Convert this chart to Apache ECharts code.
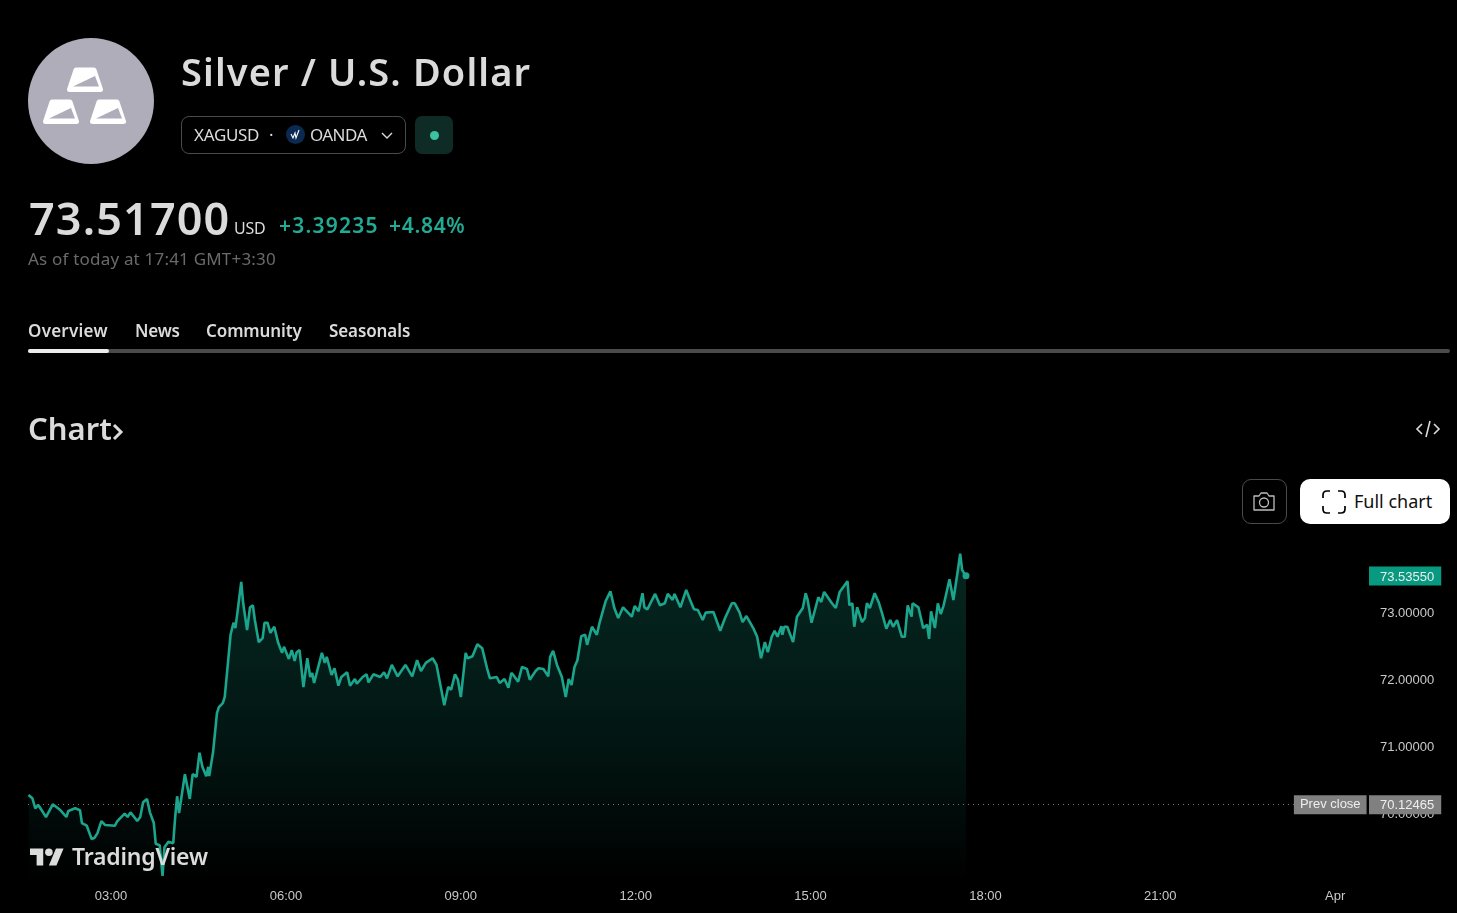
<!DOCTYPE html>
<html>
<head>
<meta charset="utf-8">
<title>Silver / U.S. Dollar</title>
<script src="https://cdn.jsdelivr.net/npm/echarts@6/dist/echarts.min.js"></script>
<style>
  html, body { margin: 0; padding: 0; background: #000; width: 1457px; height: 913px; overflow: hidden; }
  body { position: relative; font-family: "Noto Sans", sans-serif; color: #dbdbdb; }
  #main { position: absolute; left: 0; top: 0; width: 1457px; height: 913px; }
  .t { position: absolute; white-space: nowrap; line-height: 1; }
  .box { position: absolute; box-sizing: border-box; }
  svg { position: absolute; overflow: visible; }
</style>
</head>
<body>
<div id="main"></div>

<!-- page header -->
<div class="box" style="left:28px;top:38px;width:126px;height:126px;border-radius:50%;background:#aeadb9"></div>
<svg style="left:0;top:0" width="160" height="170">
  <defs>
    <g id="bar">
      <path d="M76 70H94L100.500 89.500H69.500Z" fill="#fff" stroke="#fff" stroke-width="5" stroke-linejoin="round"/>
      <path d="M73 86.500L95 76L99 86.500Z" fill="#aeadb9"/>
    </g>
  </defs>
  <use href="#bar"/>
  <use href="#bar" x="-24" y="32"/>
  <use href="#bar" x="23" y="32"/>
</svg>
<div class="t" style="left:181px;top:52px;font-size:38px;font-weight:600;letter-spacing:1.12px">Silver / U.S. Dollar</div>

<div class="box" style="left:181px;top:116px;width:225px;height:38px;border:1px solid #4a4a4a;border-radius:8px"></div>
<div class="t" style="left:194px;top:126px;font-size:17px;letter-spacing:-.3px">XAGUSD</div>
<div class="t" style="left:269px;top:126px;font-size:17px">·</div>
<div class="box" style="left:286px;top:125px;width:19px;height:19px;border-radius:50%;background:#0b2a52"></div>
<svg style="left:286px;top:125px" width="19" height="19"><path d="M5 9L7 13L9 8L10 13L13 5" fill="none" stroke="#fff" stroke-width="1.1"/></svg>
<div class="t" style="left:310px;top:126px;font-size:17px;letter-spacing:-.6px">OANDA</div>
<svg style="left:381px;top:132px" width="12" height="8"><path d="M1 1L6 6L11 1" fill="none" stroke="#dbdbdb" stroke-width="1.4"/></svg>
<div class="box" style="left:415px;top:116px;width:38px;height:38px;border-radius:7px;background:#0e2b26"></div>
<div class="box" style="left:430px;top:131px;width:9px;height:9px;border-radius:50%;background:#3cc2a0"></div>

<div class="t" style="left:29px;top:195px;font-size:45px;font-weight:600;letter-spacing:1.1px">73.51700</div>
<div class="t" style="left:234px;top:220px;font-size:16px;letter-spacing:-.2px">USD</div>
<div class="t" style="left:279px;top:215px;font-size:21px;font-weight:600;letter-spacing:1.25px;color:#22ab94">+3.39235</div>
<div class="t" style="left:389px;top:215px;font-size:21px;font-weight:600;letter-spacing:.7px;color:#22ab94">+4.84%</div>
<div class="t" style="left:28px;top:250px;font-size:17px;letter-spacing:.2px;color:#6a6a6a">As of today at 17:41 GMT+3:30</div>

<div class="t" style="left:28px;top:322px;font-size:17px;font-weight:600;letter-spacing:.25px">Overview</div>
<div class="t" style="left:135px;top:322px;font-size:17px;font-weight:600;letter-spacing:-.2px">News</div>
<div class="t" style="left:206px;top:322px;font-size:17px;font-weight:600;letter-spacing:-.1px">Community</div>
<div class="t" style="left:329px;top:322px;font-size:17px;font-weight:600;letter-spacing:-.1px">Seasonals</div>
<div class="box" style="left:28px;top:349px;width:1422px;height:4px;border-radius:2px;background:#4a4a4a"></div>
<div class="box" style="left:28px;top:349px;width:81px;height:4px;border-radius:2px;background:#ececec"></div>

<div class="t" style="left:28px;top:413px;font-size:31px;font-weight:600">Chart</div>
<svg style="left:112px;top:423px" width="12" height="18"><path d="M2 2L9 9L2 16" fill="none" stroke="#dbdbdb" stroke-width="3"/></svg>
<svg style="left:1416px;top:420px" width="24" height="18"><path d="M6 4L1 9L6 14M18 4L23 9L18 14M14 1L10 17" fill="none" stroke="#dbdbdb" stroke-width="1.6"/></svg>

<div class="box" style="left:1242px;top:479px;width:45px;height:45px;border:1px solid #4a4a4a;border-radius:9px"></div>
<svg style="left:1252px;top:491px" width="24" height="21">
  <path d="M2 5H7L9 2H15L17 5H22V19H2Z" fill="none" stroke="#bdbdbd" stroke-width="1.3" stroke-linejoin="round"/>
  <circle cx="12" cy="11.5" r="4.5" fill="none" stroke="#bdbdbd" stroke-width="1.3"/>
</svg>
<div class="box" style="left:1300px;top:479px;width:150px;height:45px;border-radius:10px;background:#fff"></div>
<svg style="left:1322px;top:490px" width="24" height="24">
  <path d="M1 8V5Q1 1 5 1H8M16 1H19Q23 1 23 5V8M23 16V19Q23 23 19 23H16M8 23H5Q1 23 1 19V16" fill="none" stroke="#000" stroke-width="1.7"/>
</svg>
<div class="t" style="left:1354px;top:492px;font-size:18px;color:#0f0f0f">Full chart</div>

<!-- TradingView mark over the chart -->
<svg style="left:30px;top:848px" width="34" height="18" viewBox="0 4 36 18">
  <path d="M14 22H7V11H0V4h14v18zM28 22h-8l7.500-18h8L28 22z" fill="#dcdcdc"/><circle cx="20" cy="8" r="4" fill="#dcdcdc"/>
</svg>
<div class="t" style="left:72px;top:845px;font-size:23px;font-weight:600;letter-spacing:-.2px;color:#dcdcdc">TradingView</div>

<script>
// minutes after midnight
const minutes = [
  95, 99, 102, 105, 107, 110, 113, 120, 128, 134, 136, 143, 148, 150, 155, 160, 163, 166, 170, 174,
  184, 186, 194, 197, 200, 207, 210, 213, 217, 220, 224, 226, 230, 233, 235, 239, 244, 246, 248, 250,
  256, 261, 264, 268, 271, 274, 278, 280, 281, 285, 286, 289, 291, 295, 297, 303, 306, 308, 311, 314,
  316, 320, 323, 326, 328, 332, 336, 338, 341, 344, 348, 352, 356, 358, 363, 366, 369, 371, 374, 378,
  382, 385, 387, 389, 397, 400, 402, 407, 410, 414, 417, 423, 426, 431, 433, 439, 443, 445, 450, 457,
  461, 464, 469, 475, 483, 490, 495, 499, 504, 511, 515, 523, 527, 530, 534, 537, 540, 545, 547, 552,
  557, 562, 567, 570, 572, 577, 580, 585, 589, 592, 594, 599, 603, 608, 611, 617, 620, 625, 630, 632,
  635, 639, 644, 648, 651, 654, 657, 660, 664, 668, 670, 675, 680, 683, 689, 694, 698, 702, 707, 716,
  719, 723, 727, 729, 732, 740, 745, 750, 753, 758, 760, 766, 772, 776, 780, 784, 789, 792, 800, 807,
  812, 819, 822, 827, 830, 834, 841, 845, 849, 853, 856, 860, 863, 866, 870, 871, 873, 876, 882, 886,
  892, 895, 897, 901, 908, 911, 914, 922, 926, 930, 938, 940, 943, 945, 948, 950, 953, 956, 958, 961,
  966, 970, 974, 978, 982, 985, 989, 994, 997, 1000, 1004, 1005, 1011, 1016, 1020, 1022, 1024, 1028, 1031, 1034,
  1037, 1043, 1047, 1052, 1054, 1056, 1058, 1060
];
const prices = [
  70.27, 70.22, 70.07, 70.12, 70.13, 70.01, 69.94, 70.13, 70.04, 69.94, 70.03, 70.07, 70.04, 69.85, 69.81, 69.61, 69.63, 69.70, 69.88, 69.82,
  69.81, 69.87, 69.99, 69.94, 70.01, 69.88, 69.94, 70.16, 70.21, 70.01, 69.85, 69.54, 69.52, 69.06, 69.49, 69.57, 69.55, 69.94, 70.25, 70.00,
  70.58, 70.21, 70.58, 70.54, 70.90, 70.69, 70.55, 70.69, 70.55, 70.91, 70.91, 71.49, 71.58, 71.64, 71.73, 72.66, 72.84, 72.76, 73.10, 73.45,
  73.13, 72.73, 73.07, 73.10, 72.88, 72.55, 72.61, 72.84, 72.84, 72.69, 72.78, 72.54, 72.39, 72.48, 72.30, 72.43, 72.27, 72.40, 72.43, 71.88,
  72.31, 72.03, 72.09, 71.94, 72.39, 72.24, 72.33, 72.06, 72.16, 71.90, 72.03, 72.10, 71.90, 72.00, 71.93, 72.03, 72.07, 71.95, 72.07, 72.03,
  72.10, 72.01, 72.21, 72.04, 72.21, 72.04, 72.28, 72.12, 72.24, 72.31, 72.21, 71.61, 71.88, 71.84, 72.07, 71.99, 71.73, 72.39, 72.31, 72.34,
  72.52, 72.46, 72.16, 72.01, 71.99, 72.03, 71.94, 72.00, 71.87, 72.09, 72.06, 71.96, 72.18, 72.15, 71.99, 72.12, 72.16, 72.15, 72.04, 72.33,
  72.42, 72.21, 72.03, 71.73, 72.00, 71.91, 72.18, 72.28, 72.64, 72.66, 72.51, 72.78, 72.66, 72.85, 73.16, 73.31, 73.06, 72.91, 73.07, 72.93,
  73.09, 73.01, 73.28, 73.07, 73.04, 73.27, 73.10, 73.13, 73.27, 73.18, 73.27, 73.07, 73.33, 73.18, 73.04, 73.03, 72.88, 72.99, 73.00, 72.72,
  72.91, 73.13, 73.13, 72.99, 72.85, 72.94, 72.76, 72.63, 72.31, 72.55, 72.40, 72.63, 72.72, 72.63, 72.79, 72.66, 72.78, 72.78, 72.55, 72.93,
  73.06, 73.28, 73.18, 72.84, 73.22, 73.15, 73.30, 73.13, 73.06, 73.30, 73.46, 73.10, 73.13, 72.78, 73.07, 73.06, 72.85, 72.91, 73.13, 73.06,
  73.28, 73.15, 72.96, 72.75, 72.88, 72.78, 72.88, 72.63, 72.63, 73.10, 72.93, 73.13, 73.07, 72.76, 72.81, 72.60, 73.01, 72.76, 73.13, 72.97,
  73.10, 73.49, 73.18, 73.66, 73.87, 73.63, 73.58, 73.54
];
const prevClose = 70.12465;
const lastPrice = 73.5355;
const priceTicks = [70, 71, 72, 73];
const timeTicks = [180, 360, 540, 720, 900, 1080, 1260, 1440];
const timeLabels = ['03:00', '06:00', '09:00', '12:00', '15:00', '18:00', '21:00', 'Apr'];

const axisFont = '"Liberation Sans", Arial, sans-serif';
const points = minutes.map((m, i) => [m, prices[i]]);

const chartDom = document.getElementById('main');
const myChart = echarts.init(chartDom, null, { renderer: 'canvas' });

const option = {
  animation: false,
  backgroundColor: '#000',
  grid: { left: 28, right: 95, top: 545, bottom: 33 },
  xAxis: {
    type: 'value',
    min: 94.5,
    max: 1467.6,
    axisLine: { show: false },
    axisTick: { show: false },
    splitLine: { show: false },
    axisLabel: {
      customValues: timeTicks,
      margin: 10,
      color: '#c9c9c9',
      fontSize: 13,
      fontFamily: axisFont,
      formatter: (v) => timeLabels[timeTicks.indexOf(v)]
    }
  },
  yAxis: {
    type: 'value',
    position: 'right',
    min: 69,
    max: 74,
    axisLine: { show: false },
    axisTick: { show: false },
    splitLine: { show: false },
    axisLabel: {
      customValues: priceTicks.concat([prevClose, lastPrice]),
      margin: 7,
      fontSize: 13,
      fontFamily: axisFont,
      formatter: (v) => {
        const s = v.toFixed(5);
        if (v === lastPrice) return '{last|' + s + '}';
        if (v === prevClose) return '{prev|' + s + '}';
        return '{plain|' + s + '}';
      },
      rich: {
        plain: { color: '#c9c9c9', fontSize: 13, fontFamily: axisFont, padding: [2, 7, 0, 11] },
        last: { color: '#eee', fontSize: 13, fontFamily: axisFont, backgroundColor: '#089981', padding: [4, 7, 2, 11] },
        prev: { color: '#eee', fontSize: 13, fontFamily: axisFont, backgroundColor: '#808080', padding: [4, 7, 2, 11] }
      }
    }
  },
  series: [{
    type: 'line',
    data: points,
    showSymbol: false,
    smooth: false,
    lineStyle: { color: '#1ba58d', width: 2.6 },
    areaStyle: {
      color: new echarts.graphic.LinearGradient(0, 0, 0, 1, [
        { offset: 0, color: 'rgba(17,95,78,0.55)' },
        { offset: 1, color: 'rgba(8,153,129,0)' }
      ])
    },
    markPoint: {
      silent: true,
      symbol: 'circle',
      symbolSize: 7,
      itemStyle: { color: '#1ba58d' },
      label: { show: false },
      data: [{ coord: points[points.length - 1] }]
    },
    markLine: {
      silent: true,
      symbol: 'none',
      lineStyle: { color: '#777', type: [1, 4], width: 1 },
      label: {
        position: 'end',
        distance: 0,
        formatter: 'Prev close',
        color: '#eee',
        fontSize: 13,
        fontFamily: axisFont,
        backgroundColor: '#808080',
        padding: [4, 6, 2, 6]
      },
      data: [[{ coord: [94.5, prevClose] }, { coord: [1397.5, prevClose] }]]
    }
  }]
};
option && myChart.setOption(option);
</script>
</body>
</html>
